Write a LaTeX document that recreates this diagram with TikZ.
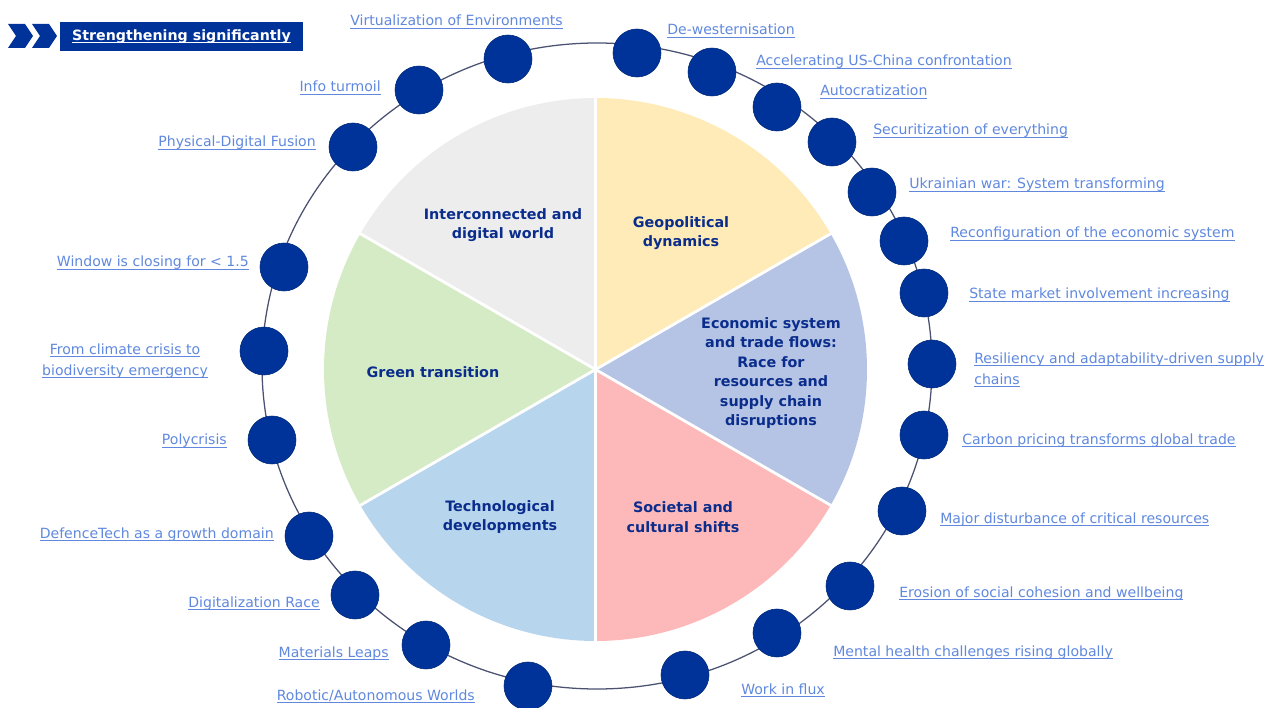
\documentclass[tikz,border=0pt]{standalone}
\usepackage{fontspec}
\setmainfont{DejaVu Sans}
\usepackage{xcolor}
\usetikzlibrary{positioning}
\definecolor{eublue}{HTML}{003399}
\definecolor{trendtxt}{HTML}{5F88DE}
\definecolor{sectortxt}{HTML}{0A2D8C}
\definecolor{ringline}{HTML}{4B5170}
\definecolor{secgray}{HTML}{EDEDED}
\definecolor{secyellow}{HTML}{FEEBB7}
\definecolor{secblue}{HTML}{B5C3E4}
\definecolor{secpink}{HTML}{FDB9B9}
\definecolor{seclight}{HTML}{B8D5EE}
\definecolor{secgreen}{HTML}{D4EBC5}
\newcommand\lineunder[1]{\setbox0\hbox{#1}\rlap{\rule[-1.6pt]{\wd0}{0.5pt}}\box0}
\tikzset{
	trenddot/.style={
			circle, fill=eublue, draw=eublue!80!black, line width=0.4pt,
			minimum size=1.2cm, inner sep=0pt
		},
	trend/.style={
			text=trendtxt, inner sep=0pt,
			font=\fontsize{10}{15}\selectfont
		},
	sector/.style={
			text=sectortxt, inner sep=0pt, align=center,
			font=\bfseries\fontsize{10.2}{13.8}\selectfont
		}
}

\begin{document}
\begin{tikzpicture}[x=0.025cm,y=0.025cm]
	\useasboundingbox (0,0) rectangle (1264,-708);

	% header
	\fill[eublue] (8,-24) -- (25,-24) -- (33,-36) -- (25,-48) -- (8,-48) -- (16,-36) -- cycle;
	\fill[eublue] (32,-24) -- (49,-24) -- (57,-36) -- (49,-48) -- (32,-48) -- (40,-36) -- cycle;
	\node[fill=eublue, text=white, font=\bfseries\fontsize{10.1}{12}\selectfont,
		minimum width=6.08cm, minimum height=0.72cm, inner sep=0pt]
		(head) at (181.5,-36.5) {\lineunder{Strengthening significantly}};

	% pie of the six drivers
	\coordinate (pc) at (595.5,-369.5);
	\foreach \a/\c in {90/secgray,30/secyellow,-30/secblue,-90/secpink,210/seclight,150/secgreen}
	\fill[\c] (pc) -- ++(\a:271.5) arc[start angle=\a, end angle=\a+60, radius=271.5] -- cycle;
	\foreach \a in {30,90,...,330}
	\draw[white, line width=2pt] (pc) -- ++(\a:273);

	\node[sector] (digital) at (503,-225) {Interconnected and\\digital world};
	\node[sector] (geo) at (681,-233) {Geopolitical\\dynamics};
	\node[sector] (econ) at (771,-373) {Economic system\\and trade flows:\\Race for\\resources and\\supply chain\\disruptions};
	\node[sector] (green) at (433,-372) {Green transition};
	\node[sector] (tech) at (500,-517) {Technological\\developments};
	\node[sector] (soc) at (683,-517) {Societal and\\cultural shifts};

	% ring of trends
	\draw[ringline, line width=0.9pt] (597,-366) ellipse [x radius=335, y radius=323];
	\foreach \n/\x/\y in {virt/508/59, info/419/90, phys/353/147, window/284/267,
			climate/264/351, poly/272/440, defence/309/536, digit/355/595,
			mater/426/645, robot/528/686, flux/685/675, mental/777/633,
			erosion/850/586, major/902/511, carbon/924/435, resil/932/364,
			state/924/293, reconf/904/241, ukr/872/192, secur/832/142,
			autoc/777/107, accel/712/72, dewest/637/53}
	\node[trenddot] (\n) at (\x,-\y) {};

	% left labels
	\node[trend, anchor=base east] (virtlbl) at (563,-26) {\lineunder{Virtualization of Environments}};
	\node[trend, anchor=base east] (infolbl) at (381,-92) {\lineunder{Info turmoil}};
	\node[trend, anchor=base east] (physlbl) at (316,-147) {\lineunder{Physical-Digital Fusion}};
	\node[trend, anchor=base east] (windowlbl) at (249,-267) {\lineunder{Window is closing for < 1.5}};
	\node[trend, align=center] (climatelbl) at (125,-361) {\lineunder{From climate crisis to}\\\lineunder{biodiversity emergency}};
	\node[trend, anchor=base east] (polylbl) at (227,-445) {\lineunder{Polycrisis}};
	\node[trend, anchor=base east] (defencelbl) at (274,-538) {\lineunder{DefenceTech as a growth domain}};
	\node[trend, anchor=base east] (digitlbl) at (320,-607) {\lineunder{Digitalization Race}};
	\node[trend, anchor=base east] (materlbl) at (389,-657) {\lineunder{Materials Leaps}};
	\node[trend, anchor=base east] (robotlbl) at (475,-700) {\lineunder{Robotic/Autonomous Worlds}};

	% right labels
	\node[trend, anchor=base west] (dewestlbl) at (667,-35) {\lineunder{De-westernisation}};
	\node[trend, anchor=base west] (accellbl) at (756,-66) {\lineunder{Accelerating US-China confrontation}};
	\node[trend, anchor=base west] (autoclbl) at (820,-96) {\lineunder{Autocratization}};
	\node[trend, anchor=base west] (securlbl) at (873,-135) {\lineunder{Securitization of everything}};
	\node[trend, anchor=base west] (ukrlbl) at (909,-189) {\lineunder{Ukrainian war: System transforming}};
	\node[trend, anchor=base west] (reconflbl) at (950,-238) {\lineunder{Reconfiguration of the economic system}};
	\node[trend, anchor=base west] (statelbl) at (969,-299) {\lineunder{State market involvement increasing}};
	\node[trend, anchor=west, align=left] (resillbl) at (974,-370) {\lineunder{Resiliency and adaptability-driven supply}\\\lineunder{chains}};
	\node[trend, anchor=base west] (carbonlbl) at (962,-444) {\lineunder{Carbon pricing transforms global trade}};
	\node[trend, anchor=base west] (majorlbl) at (940,-523) {\lineunder{Major disturbance of critical resources}};
	\node[trend, anchor=base west] (erosionlbl) at (899,-597) {\lineunder{Erosion of social cohesion and wellbeing}};
	\node[trend, anchor=base west] (mentallbl) at (833,-656) {\lineunder{Mental health challenges rising globally}};
	\node[trend, anchor=base west] (fluxlbl) at (741,-694) {\lineunder{Work in flux}};
\end{tikzpicture}
\end{document}
